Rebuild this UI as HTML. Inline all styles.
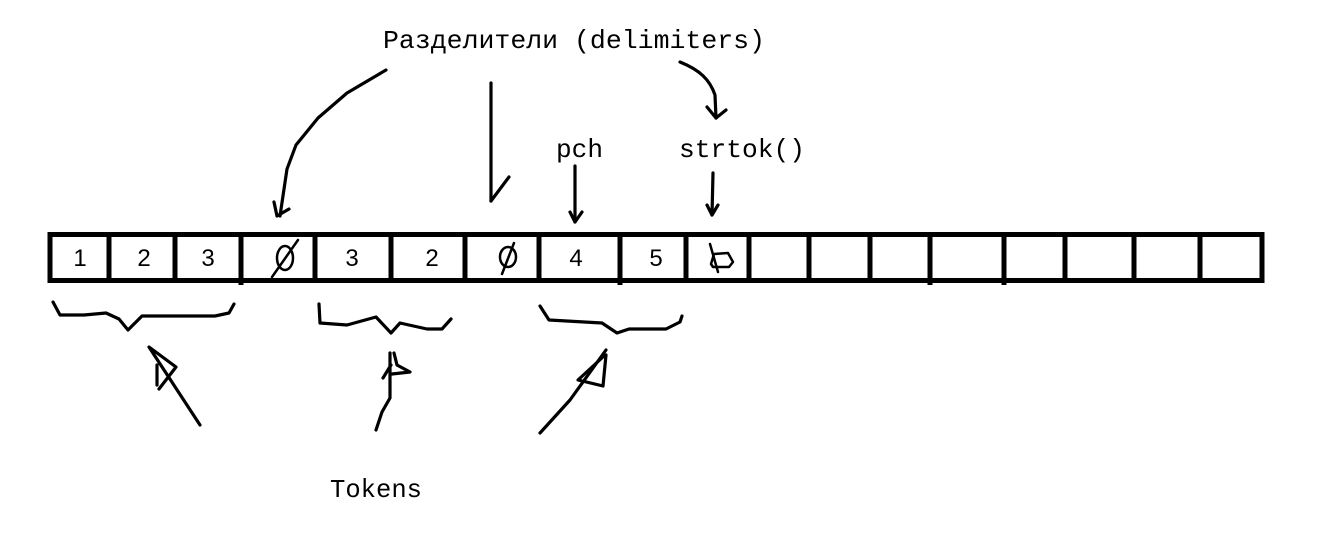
<!DOCTYPE html>
<html><head><meta charset="utf-8"><style>
html,body{margin:0;padding:0;background:#fff;}
svg{display:block}
</style></head><body>
<svg width="1338" height="545" viewBox="0 0 1338 545" xmlns="http://www.w3.org/2000/svg">
<rect width="1338" height="545" fill="#fff"/>
<g font-family="'Liberation Mono', monospace" font-size="26" fill="#000">
<text x="383" y="48" textLength="382" lengthAdjust="spacingAndGlyphs">Разделители (delimiters)</text>
<text x="556" y="157" textLength="47" lengthAdjust="spacingAndGlyphs">pch</text>
<text x="679" y="157" textLength="126" lengthAdjust="spacingAndGlyphs">strtok()</text>
<text x="330" y="497" textLength="92" lengthAdjust="spacingAndGlyphs">Tokens</text>
</g>
<!-- array -->
<rect x="50" y="234.5" width="1212" height="46" fill="none" stroke="#000" stroke-width="5"/>
<g stroke="#000" stroke-width="5">
<line x1="109" y1="234" x2="109" y2="281"/><line x1="175" y1="234" x2="175" y2="281"/>
<line x1="241" y1="234" x2="241" y2="285"/><line x1="315" y1="234" x2="315" y2="281"/>
<line x1="391" y1="234" x2="391" y2="281"/><line x1="465" y1="234" x2="465" y2="281"/>
<line x1="539" y1="234" x2="539" y2="281"/><line x1="620" y1="234" x2="620" y2="285"/>
<line x1="686" y1="234" x2="686" y2="281"/><line x1="749" y1="234" x2="749" y2="281"/>
<line x1="809" y1="234" x2="809" y2="281"/><line x1="870" y1="234" x2="870" y2="281"/>
<line x1="930" y1="234" x2="930" y2="285"/><line x1="1004" y1="234" x2="1004" y2="285"/>
<line x1="1065" y1="234" x2="1065" y2="281"/><line x1="1134" y1="234" x2="1134" y2="281"/>
<line x1="1200" y1="234" x2="1200" y2="281"/>
</g>
<g font-family="'Liberation Sans', sans-serif" font-size="24" fill="#000" text-anchor="middle">
<text x="80" y="266">1</text><text x="144" y="266">2</text><text x="208" y="266">3</text>
<text x="352" y="266">3</text><text x="432" y="266">2</text>
<text x="576" y="266">4</text><text x="656" y="266">5</text>
</g>
<g fill="none" stroke="#000" stroke-width="2.5" stroke-linecap="round" stroke-linejoin="round">
<ellipse cx="285" cy="258" rx="8" ry="12"/><line x1="272" y1="277" x2="298" y2="240"/>
<ellipse cx="508" cy="257" rx="8" ry="10"/><line x1="502" y1="274" x2="514" y2="243"/>
<path d="M711 264 L714 254 L728 253 L733 262 L729 267 L713 267 Z"/><line x1="710" y1="244" x2="718" y2="272"/>
</g>
<g fill="none" stroke="#000" stroke-width="3.2" stroke-linecap="round" stroke-linejoin="round">
<path d="M386 70 L347 93 L318 118 L296 145 L287 169 L280 216"/>
<path d="M274 202 L277 216 L289 209"/>
<path d="M491 83 L491 201"/><path d="M509 177 L491 201"/>
<path d="M575 166 L575 222"/><path d="M570 212 L575 222 L582 212"/>
<path d="M713 173 L712 215"/><path d="M707 205 L712 215 L718 205"/>
<path d="M680 62 C700 70 710 80 715 95 L716 118"/><path d="M707 107 L716 118 L726 110"/>
<path d="M53 302 L60 315 L84 315 L106 313 L119 319 L128 330 L142 316 L215 316 L229 313 L234 304"/>
<path d="M319 304 L320 323 L347 325 L376 317 L391 333 L400 323 L427 329 L442 329 L451 319"/>
<path d="M540 306 L549 320 L602 323 L617 333 L629 329 L666 329 L680 322 L682 316"/>
<path d="M200 425 L149 347 L176 367 L159 389"/><path d="M157 365 L157 385"/>
<path d="M376 430 L382 412 L390 398 L390 353"/><path d="M394 353 L397 365 L410 372 L392 374"/><path d="M383 378 L391 365"/>
<path d="M540 433 L570 400 L606 350"/><path d="M606 355 L603 386 L578 380 L604 356"/>
</g>
</svg>
</body></html>
